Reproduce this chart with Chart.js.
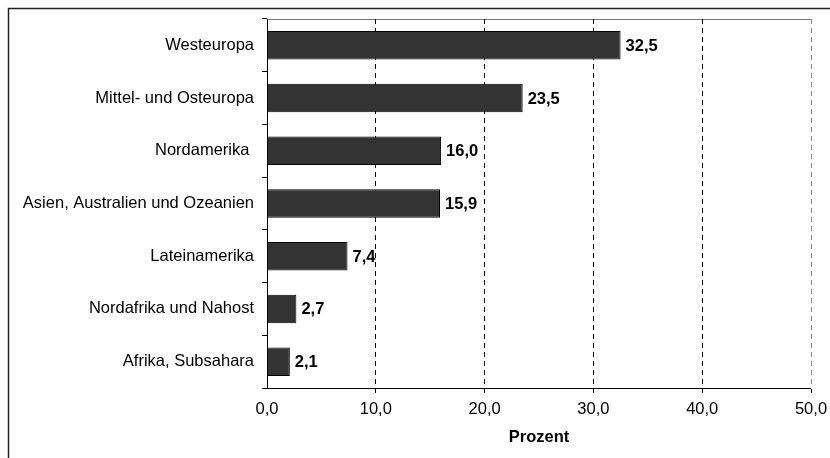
<!DOCTYPE html>
<html>
<head>
<meta charset="utf-8">
<script src="https://cdn.jsdelivr.net/npm/chart.js@4/dist/chart.umd.min.js"></script>
<style>
  html, body { margin: 0; padding: 0; background: #fff; }
  canvas { display: block; }
</style>
</head>
<body>
<canvas id="c" width="830" height="458"></canvas>
<script>
// Regions and their share in percent
const regions = [
  'Westeuropa',
  'Mittel- und Osteuropa',
  'Nordamerika ',
  'Asien, Australien und Ozeanien',
  'Lateinamerika',
  'Nordafrika und Nahost',
  'Afrika, Subsahara'
];
const shares = [32.5, 23.5, 16.0, 15.9, 7.4, 2.7, 2.1];
const xTicks = [0, 10, 20, 30, 40, 50];
const axisTitle = 'Prozent';

const FONT = '"Liberation Sans", Arial, Helvetica, sans-serif';
const SIZE = 16.5;
const fmt = v => v.toFixed(1).replace('.', ',');

// Value labels at the end of each bar
const valueLabels = {
  id: 'valueLabels',
  afterDatasetsDraw(chart) {
    const ctx = chart.ctx;
    const meta = chart.getDatasetMeta(0);
    ctx.save();
    ctx.font = 'bold ' + SIZE + 'px ' + FONT;
    ctx.fillStyle = '#000';
    ctx.textAlign = 'left';
    ctx.textBaseline = 'middle';
    meta.data.forEach((bar, i) => {
      ctx.fillText(fmt(shares[i]), bar.x + 5, bar.y + 1);
    });
    ctx.restore();
  }
};

// Outer frame and the top edge of the plot area
const frame = {
  id: 'frame',
  beforeDraw(chart) {
    const ctx = chart.ctx;
    const a = chart.chartArea;
    ctx.save();
    ctx.strokeStyle = '#222';
    ctx.lineWidth = 1.5;
    ctx.beginPath();
    ctx.moveTo(8.5, 458);
    ctx.lineTo(8.5, 8.5);
    ctx.lineTo(830, 8.5);
    ctx.stroke();
    ctx.strokeStyle = '#777';
    ctx.lineWidth = 1;
    ctx.beginPath();
    ctx.moveTo(a.left, Math.round(a.top) + 0.5);
    ctx.lineTo(a.right, Math.round(a.top) + 0.5);
    ctx.stroke();
    ctx.restore();
  }
};

new Chart(document.getElementById('c'), {
  type: 'bar',
  data: {
    labels: regions,
    datasets: [{
      data: shares,
      backgroundColor: '#333333',
      borderColor: '#000000',
      borderWidth: 1,
      borderSkipped: false,
      categoryPercentage: 1,
      barPercentage: 0.54
    }]
  },
  options: {
    indexAxis: 'y',
    responsive: false,
    animation: false,
    layout: { padding: { top: 19, right: 19, left: 0, bottom: 0 } },
    plugins: { legend: { display: false }, tooltip: { enabled: false } },
    scales: {
      x: {
        min: 0,
        max: 50,
        afterBuildTicks: s => { s.ticks = xTicks.map(v => ({ value: v })); },
        afterFit: s => { s.height = 70; s.paddingLeft = 0; s.paddingRight = 0; },
        ticks: {
          color: '#000',
          font: { family: FONT, size: SIZE },
          padding: 7,
          maxRotation: 0,
          callback: v => fmt(v)
        },
        grid: {
          display: true,
          drawOnChartArea: true,
          drawTicks: true,
          tickLength: 5,
          tickColor: '#000',
          tickBorderDash: [],
          lineWidth: ctx => (ctx.tick && ctx.tick.value === 0 ? 0 : 1),
          color: ctx => (ctx.tick && ctx.tick.value === 50 ? '#888' : '#000')
        },
        border: { display: true, color: '#000', width: 1, dash: [5, 4] },
        title: {
          display: true,
          text: axisTitle,
          color: '#000',
          font: { family: FONT, size: SIZE, weight: 'bold' },
          padding: { top: 0, bottom: 11 }
        }
      },
      y: {
        afterFit: s => { s.width = 267; },
        ticks: {
          color: '#000',
          font: { family: FONT, size: SIZE },
          padding: 8
        },
        grid: {
          display: true,
          offset: true,
          drawOnChartArea: false,
          drawTicks: true,
          tickLength: 5,
          color: '#000'
        },
        border: { display: true, color: '#000', width: 1 }
      }
    }
  },
  plugins: [frame, valueLabels]
});
</script>
</body>
</html>
